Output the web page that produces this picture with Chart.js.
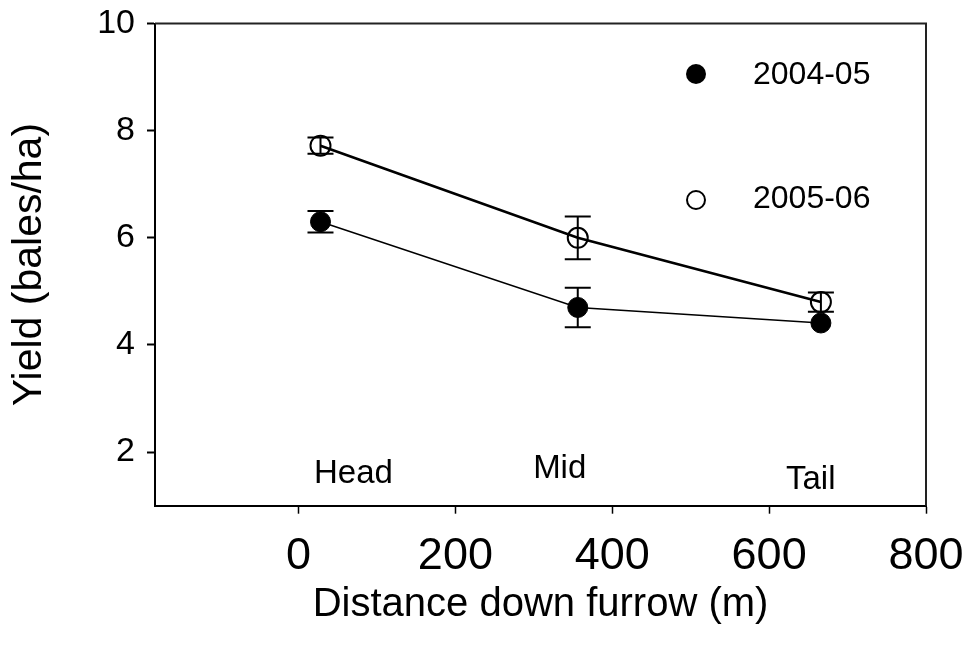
<!DOCTYPE html>
<html>
<head>
<meta charset="utf-8">
<script src="https://cdn.jsdelivr.net/npm/chart.js@4/dist/chart.umd.min.js"></script>
<style>
  html, body { margin: 0; padding: 0; background: #fff; }
  canvas { display: block; }
</style>
</head>
<body>
<canvas id="chart" width="964" height="659"></canvas>
<script>
// --- data ---------------------------------------------------------------
const distances  = [28, 356, 666];          // m down the furrow
const yield0405  = [6.3, 4.7, 4.41];
const err0405    = [0.2, 0.37, 0];
const yield0506  = [7.72, 6.0, 4.8];
const err0506    = [0.15, 0.4, 0.18];
const seriesNames = ['2004-05', '2005-06'];
const xTicks = [0, 200, 400, 600, 800];
const yTicks = [2, 4, 6, 8, 10];
const zoneLabels = ['Head', 'Mid', 'Tail'];
const zoneX = [70, 333, 653];
const zoneY = [1.59, 1.69, 1.48];

const FONT = "'Liberation Sans', Arial, Helvetica, sans-serif";
const INK = '#000';

const toPoints = (ys) => ys.map((v, i) => ({ x: distances[i], y: v }));

// error bars, drawn through the scales
const errorBars = {
  id: 'errorBars',
  afterDatasetsDraw(chart) {
    const { ctx, scales: { x, y } } = chart;
    ctx.save();
    ctx.strokeStyle = INK;
    ctx.lineWidth = 2;
    [[yield0405, err0405], [yield0506, err0506]].forEach(([vals, errs]) => {
      vals.forEach((v, i) => {
        if (!errs[i]) return;
        const px = x.getPixelForValue(distances[i]);
        const top = y.getPixelForValue(v + errs[i]);
        const bot = y.getPixelForValue(v - errs[i]);
        ctx.beginPath();
        ctx.moveTo(px, top); ctx.lineTo(px, bot);
        ctx.moveTo(px - 13, top); ctx.lineTo(px + 13, top);
        ctx.moveTo(px - 13, bot); ctx.lineTo(px + 13, bot);
        ctx.stroke();
      });
    });
    ctx.restore();
  }
};

// top/right frame lines, zone labels and the legend
const extras = {
  id: 'extras',
  afterDraw(chart) {
    const { ctx, chartArea: a, scales: { x, y } } = chart;
    ctx.save();
    ctx.strokeStyle = '#222';
    ctx.lineWidth = 2;
    ctx.beginPath();
    ctx.moveTo(a.left, a.top); ctx.lineTo(a.right, a.top); ctx.lineTo(a.right, a.bottom);
    ctx.stroke();

    ctx.fillStyle = INK;
    ctx.font = '33px ' + FONT;
    ctx.textAlign = 'center';
    ctx.textBaseline = 'middle';
    zoneLabels.forEach((t, i) => {
      ctx.fillText(t, x.getPixelForValue(zoneX[i]), y.getPixelForValue(zoneY[i]));
    });

    // legend
    ctx.font = '32px ' + FONT;
    ctx.textAlign = 'left';
    ctx.beginPath();
    ctx.arc(696, 74, 10, 0, Math.PI * 2);
    ctx.fill();
    ctx.fillText(seriesNames[0], 753, 75);
    ctx.beginPath();
    ctx.lineWidth = 2;
    ctx.strokeStyle = INK;
    ctx.arc(696, 200, 9, 0, Math.PI * 2);
    ctx.stroke();
    ctx.fillText(seriesNames[1], 753, 199);
    ctx.restore();
  }
};

new Chart(document.getElementById('chart'), {
  type: 'line',
  data: {
    datasets: [{
      label: seriesNames[0],
      data: toPoints(yield0405),
      borderColor: INK,
      borderWidth: 1.5,
      pointRadius: 10,
      pointBackgroundColor: INK,
      pointBorderColor: INK,
      pointBorderWidth: 1,
      tension: 0,
    }, {
      label: seriesNames[1],
      data: toPoints(yield0506),
      borderColor: INK,
      borderWidth: 2.6,
      pointRadius: 10,
      pointBackgroundColor: 'rgba(0,0,0,0)',
      pointBorderColor: INK,
      pointBorderWidth: 2,
      tension: 0,
    }],
  },
  options: {
    responsive: false,
    animation: false,
    devicePixelRatio: 1,
    layout: { padding: { left: 0, top: 23.5, right: 38, bottom: 0 } },
    plugins: { legend: { display: false }, tooltip: { enabled: false } },
    scales: {
      x: {
        type: 'linear',
        min: -183, max: 800,
        afterBuildTicks: (s) => { s.ticks = xTicks.map(v => ({ value: v })); },
        afterFit: (s) => { s.height = 153.3; s.paddingLeft = 0; s.paddingRight = 0; },
        grid: { drawOnChartArea: false, drawTicks: true, tickLength: 8, tickWidth: 1.5, tickColor: INK },
        border: { color: INK, width: 2 },
        ticks: { color: INK, font: { family: FONT, size: 45 }, padding: 16, maxRotation: 0 },
        title: { display: true, text: 'Distance down furrow (m)', color: INK,
                 font: { family: FONT, size: 40 }, padding: { top: 0, bottom: 30 } },
      },
      y: {
        type: 'linear',
        min: 1, max: 10,
        afterBuildTicks: (s) => { s.ticks = yTicks.map(v => ({ value: v })); },
        afterFit: (s) => { s.width = 155; s.paddingTop = 0; s.paddingBottom = 0; },
        grid: { drawOnChartArea: false, drawTicks: true, tickLength: 8, tickWidth: 2, tickColor: INK },
        border: { color: INK, width: 2 },
        ticks: { color: INK, font: { family: FONT, size: 34 }, padding: 12 },
        title: { display: true, text: 'Yield (bales/ha)', color: INK,
                 font: { family: FONT, size: 41 }, padding: { top: 5, bottom: 0 } },
      },
    },
  },
  plugins: [errorBars, extras],
});
</script>
</body>
</html>
